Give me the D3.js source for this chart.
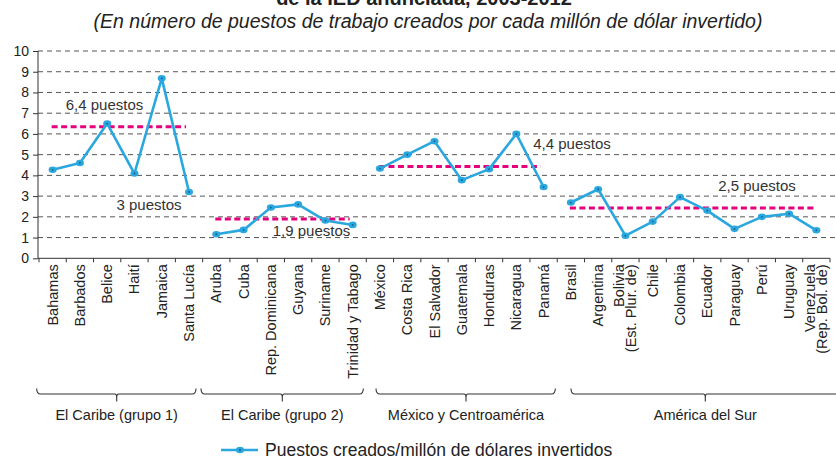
<!DOCTYPE html>
<html><head><meta charset="utf-8">
<script src="https://cdn.jsdelivr.net/npm/d3@7"></script>
<style>
body{margin:0;background:#fff;}
svg{display:block;font-family:"Liberation Sans",Arial,sans-serif;}
</style></head>
<body><svg id="c" width="836" height="459"></svg>
<script>
const categories = ["Bahamas","Barbados","Belice","Haití","Jamaica","Santa Lucía",
  "Aruba","Cuba","Rep. Dominicana","Guyana","Suriname","Trinidad y Tabago",
  "México","Costa Rica","El Salvador","Guatemala","Honduras","Nicaragua","Panamá",
  "Brasil","Argentina","Bolivia\n(Est. Plur. de)","Chile","Colombia","Ecuador","Paraguay","Perú","Uruguay","Venezuela\n(Rep. Bol. de)"];
const values = [4.27,4.6,6.5,4.09,8.68,3.2,
  1.16,1.37,2.45,2.6,1.82,1.61,
  4.33,5.0,5.65,3.77,4.3,6.0,3.44,
  2.69,3.33,1.09,1.77,2.95,2.3,1.42,2.0,2.15,1.35];
const groupNames = ["El Caribe (grupo 1)","El Caribe (grupo 2)","México y Centroamérica","América del Sur"];
const groupSizes = [6,6,7,10];
const groupAverages = [6.35,1.9,4.43,2.43];
const averageLabels = ["6,4 puestos","1,9 puestos","4,4 puestos","2,5  puestos"];
const extraLabel = "3 puestos";
const yTicks = [0,1,2,3,4,5,6,7,8,9,10];
const title = "de la IED anunciada, 2003-2012";
const subtitle = "(En número de puestos de trabajo creados por cada millón de dólar invertido)";
const legendLabel = "Puestos creados/millón de dólares invertidos";

const svg = d3.select("#c");
const W = 836;
const blue = "#2aa7df", pink = "#e5007d", grid = "#555";

const x = d3.scaleBand().domain(categories).range([39, 830]).paddingInner(0).paddingOuter(0);
const y = d3.scaleLinear().domain([0,10]).range([258.3, 51]);
const cx = c => x(c) + x.bandwidth()/2;

// titles
svg.append("text").attr("x", 424).attr("y", 5).attr("text-anchor","middle")
  .attr("font-weight","bold").attr("font-size",20).attr("fill","#222").text(title);
svg.append("text").attr("x", 428).attr("y", 28).attr("text-anchor","middle")
  .attr("font-style","italic").attr("font-size",19.5).attr("fill","#222").text(subtitle);

// grid
svg.append("g").selectAll("line").data(yTicks.filter(d=>d>0)).join("line")
  .attr("x1",38).attr("x2",W).attr("y1",d=>y(d)).attr("y2",d=>y(d))
  .attr("stroke",grid).attr("stroke-width",1).attr("stroke-dasharray","5,4");

// y axis
const ya = svg.append("g").attr("transform","translate(38,0)")
  .call(d3.axisLeft(y).tickValues(yTicks).tickSize(5).tickPadding(4).tickFormat(d3.format("d")));
ya.select(".domain").attr("stroke","#333").attr("d","M0,"+y(10)+"V"+y(0));
ya.selectAll(".tick line").attr("stroke","#333");
ya.selectAll("text").attr("font-size",14).attr("font-family","Liberation Sans, Arial, sans-serif").attr("fill","#222");

// x axis
const xa = svg.append("g").attr("transform","translate(0,"+y(0)+")");
xa.append("line").attr("x1",38).attr("x2",830).attr("stroke","#333");
const bounds = categories.map(c=>x(c)).concat([x.range()[1]]);
xa.selectAll(".tk").data(bounds).join("line").attr("class","tk")
  .attr("x1",d=>d).attr("x2",d=>d).attr("y1",0).attr("y2",4).attr("stroke","#333");
const lbl = xa.selectAll(".lb").data(categories).join("text").attr("class","lb")
  .attr("transform",c=>"translate("+cx(c)+",6) rotate(-90)")
  .attr("text-anchor","end").attr("font-size",14.5).attr("fill","#222");
lbl.each(function(c){
  const lines = c.split("\n");
  const t = d3.select(this);
  lines.forEach((s,i)=>{
    const off = lines.length===1 ? 5 : (i===0 ? -1.5 : 11);
    t.append("tspan").attr("x",0).attr("y",off).text(s);
  });
});

// groups
let start = 0;
const groups = groupSizes.map((n,i)=>{ const g={i, cats:categories.slice(start,start+n), vals:values.slice(start,start+n)}; start+=n; return g;});

// average dashed lines
svg.append("g").selectAll("line").data(groups).join("line")
  .attr("x1",g=>cx(g.cats[0])-1).attr("x2",g=>cx(g.cats[g.cats.length-1])-3)
  .attr("y1",g=>y(groupAverages[g.i])).attr("y2",g=>y(groupAverages[g.i]))
  .attr("stroke",pink).attr("stroke-width",3).attr("stroke-dasharray","6,3.5");

// series lines
const line = d3.line().x(d=>cx(d.c)).y(d=>y(d.v));
groups.forEach(g=>{
  const pts = g.cats.map((c,j)=>({c, v:g.vals[j]}));
  svg.append("path").datum(pts).attr("d",line).attr("fill","none")
    .attr("stroke",blue).attr("stroke-width",2.6).attr("stroke-linejoin","round");
});
const allPts = categories.map((c,i)=>({c, v:values[i]}));
svg.append("g").selectAll("ellipse").data(allPts).join("ellipse")
  .attr("cx",d=>cx(d.c)).attr("cy",d=>y(d.v)).attr("rx",4).attr("ry",3.3).attr("fill",blue);
svg.append("g").selectAll("circle").data(allPts).join("circle")
  .attr("cx",d=>cx(d.c)).attr("cy",d=>y(d.v)).attr("r",0.9).attr("fill","#1a5f80");

// average labels
const labPos = [[104.5,110],[311.5,236],[572,149],[757,191]];
svg.append("g").selectAll("text").data(averageLabels).join("text")
  .attr("x",(d,i)=>labPos[i][0]).attr("y",(d,i)=>labPos[i][1]).attr("text-anchor","middle")
  .attr("font-size",15).attr("fill","#333").text(d=>d);
svg.append("text").attr("x",149).attr("y",209.5).attr("text-anchor","middle")
  .attr("font-size",15).attr("fill","#333").text(extraLabel);

// group brackets
const brk = [[36.7,196,116.7],[201,363.3,282.3],[376,555.3,466],[571,840,705.3]];
const bg = svg.append("g");
groupNames.forEach((n,i)=>{
  const [a,b,m] = brk[i];
  bg.append("path").attr("d",`M${a},388.5 Q${a},394 ${a+4},394 H${m-2} Q${m},394 ${m},397 V401.5 M${m},397 Q${m},394 ${m+2},394 H${b-4} Q${b},394 ${b},388.5`)
    .attr("fill","none").attr("stroke","#333").attr("stroke-width",1.1);
  bg.append("text").attr("x",m).attr("y",419.5).attr("text-anchor","middle")
    .attr("font-size",14.5).attr("fill","#222").text(n);
});

// legend
const lg = svg.append("g");
lg.append("line").attr("x1",221).attr("x2",258).attr("y1",450).attr("y2",450).attr("stroke",blue).attr("stroke-width",2.6);
lg.append("ellipse").attr("cx",240).attr("cy",450).attr("rx",4).attr("ry",3.3).attr("fill",blue);
lg.append("circle").attr("cx",240).attr("cy",450).attr("r",0.9).attr("fill","#1a5f80");
lg.append("text").attr("x",265).attr("y",456).attr("font-size",17.5).attr("fill","#222").text(legendLabel);
</script></body></html>
